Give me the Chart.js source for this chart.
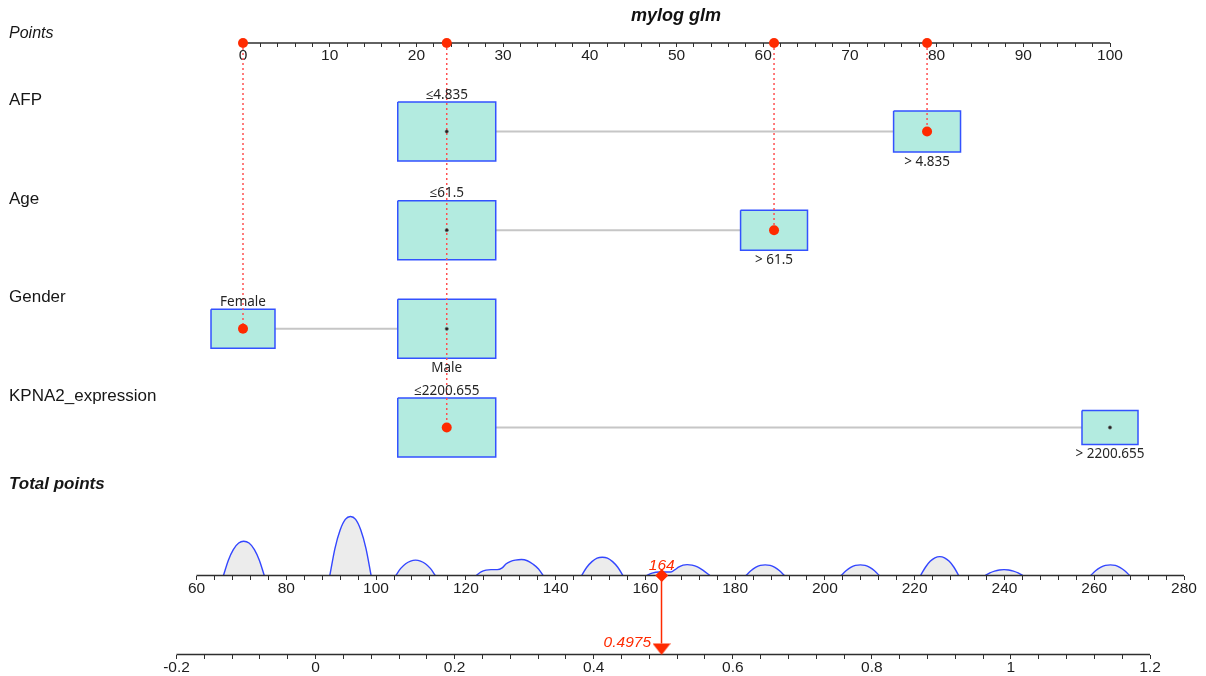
<!DOCTYPE html>
<html>
<head>
<meta charset="utf-8">
<title>mylog glm nomogram</title>
<script src="https://cdn.jsdelivr.net/npm/chart.js@4.4.1/dist/chart.umd.min.js"></script>
<style>
  html, body { margin: 0; padding: 0; background: #ffffff; }
  #wrap { width: 1206px; height: 676px; position: relative; }
</style>
</head>
<body>
<div id="wrap"><canvas id="nomogram"></canvas></div>
<script>
// ---------------- data ----------------
const TITLE = 'mylog glm';
const VARIABLES = ['AFP', 'Age', 'Gender', 'KPNA2_expression'];

const AFP_LEVELS = ['≤4.835', '> 4.835'];
const AFP_POINTS = [23.5, 78.9];
const AGE_LEVELS = ['≤61.5', '> 61.5'];
const AGE_POINTS = [23.5, 61.25];
const GENDER_LEVELS = ['Female', 'Male'];
const GENDER_POINTS = [0, 23.5];
const KPNA2_LEVELS = ['≤2200.655', '> 2200.655'];
const KPNA2_POINTS = [23.5, 100];

// level of each variable for the patient being scored
const SELECTED_LEVEL = [1, 1, 0, 0];
// predicted probability for that patient
const PROBABILITY = 0.4975;

// labelled ticks of the three scales
const POINTS_TICKS = [0, 10, 20, 30, 40, 50, 60, 70, 80, 90, 100];
const TOTAL_TICKS = [60, 80, 100, 120, 140, 160, 180, 200, 220, 240, 260, 280];
const PROB_TICKS = [-0.2, 0, 0.2, 0.4, 0.6, 0.8, 1, 1.2];

// distribution of total points in the sample (relative density), null = gap
const TOTAL_DENSITY = [
  [66.0, 0], [67.1, 0.26], [68.2, 0.44], [69.4, 0.55], [70.5, 0.58], [71.7, 0.55], [72.9, 0.44], [74.0, 0.26], [75.1, 0], null,
  [89.7, 0], [90.85, 0.46], [92.0, 0.77], [93.15, 0.95], [94.3, 1.0], [95.45, 0.95], [96.6, 0.77], [97.75, 0.46], [98.9, 0], null,
  [104.4, 0], [105.5, 0.12], [106.6, 0.2], [107.7, 0.245], [108.8, 0.26], [109.9, 0.245], [111.0, 0.2], [112.1, 0.12], [113.2, 0], null,
  [122.3, 0], [123.4, 0.06], [124.5, 0.09], [125.6, 0.10], [127.0, 0.10], [128.1, 0.13], [129.0, 0.20], [130.0, 0.24], [131.0, 0.26],
  [132.4, 0.27], [133.7, 0.25], [135.0, 0.19], [136.2, 0.11], [137.2, 0], null,
  [145.8, 0], [146.95, 0.14], [148.1, 0.235], [149.25, 0.295], [150.4, 0.31], [151.55, 0.295], [152.7, 0.235], [153.85, 0.14], [155.0, 0], null,
  [160.3, 0], [161.5, 0.04], [163.0, 0.06], [164.5, 0.06], [165.7, 0.06], [166.6, 0.10], [167.5, 0.145], [168.4, 0.175], [169.3, 0.185],
  [170.4, 0.175], [171.6, 0.145], [172.8, 0.09], [174.4, 0], null,
  [182.4, 0], [183.5, 0.08], [184.55, 0.137], [185.6, 0.172], [186.7, 0.18], [187.8, 0.172], [188.85, 0.137], [189.9, 0.08], [191.0, 0], null,
  [203.6, 0], [204.7, 0.08], [205.75, 0.137], [206.8, 0.172], [207.9, 0.18], [208.95, 0.172], [210.0, 0.137], [211.05, 0.08], [212.1, 0], null,
  [221.3, 0], [222.4, 0.14], [223.45, 0.24], [224.5, 0.30], [225.6, 0.32], [226.65, 0.30], [227.7, 0.24], [228.75, 0.14], [229.8, 0], null,
  [235.7, 0], [236.75, 0.045], [237.8, 0.075], [238.85, 0.094], [239.9, 0.10], [240.95, 0.094], [242.0, 0.075], [243.05, 0.045], [244.1, 0], null,
  [259.2, 0], [260.3, 0.08], [261.4, 0.137], [262.5, 0.172], [263.6, 0.18], [264.7, 0.172], [265.7, 0.137], [266.8, 0.08], [267.9, 0]
];

// ---------------- layout & style ----------------
const LEVELS = [AFP_LEVELS, AGE_LEVELS, GENDER_LEVELS, KPNA2_LEVELS];
const LEVEL_POINTS = [AFP_POINTS, AGE_POINTS, GENDER_POINTS, KPNA2_POINTS];

// box half sizes per level: [half width in points, half height in rows]
const BOX_HALF = [
  [[5.65, 0.299], [3.86, 0.208]],
  [[5.65, 0.299], [3.86, 0.203]],
  [[3.69, 0.198], [5.65, 0.299]],
  [[5.65, 0.299], [3.23, 0.172]]
];

const W = 1206, H = 676;
const AREA = { left: 176, right: 1190, top: 0, bottom: H };
const ROW_PX = { first: 131.5, last: 427.5 };      // pixel centres of rows 1 and 4
const ROW_PITCH = (ROW_PX.last - ROW_PX.first) / 3;
const rowAt = px => 1 + (px - ROW_PX.first) / ROW_PITCH;
const AXIS_ROW = { points: rowAt(43), total: rowAt(575.5), prob: rowAt(654.5) };
const DENSITY_PEAK_PX = 59;                           // height of density 1.0

const C = {
  axis: '#2e2e2e', tickText: '#1e1e1e', text: '#161616', levelText: '#262626',
  boxFill: '#b3ebe0', boxEdge: '#3352ff', connector: '#c6c6c6',
  red: '#ff2a00', redDots: '#ff5050', densLine: '#3346ff', densFill: '#ececec'
};
const SANS = '"Liberation Sans", Arial, sans-serif';

// maps value anchors v0->p0, v1->p1 onto the pixel span pMin..pMax
function spanFor(v0, p0, v1, p1, pMin, pMax) {
  const k = (p1 - p0) / (v1 - v0);
  const a = v0 + (pMin - p0) / k, b = v0 + (pMax - p0) / k;
  return { min: Math.min(a, b), max: Math.max(a, b) };
}
const SPAN_POINTS = spanFor(0, 243, 100, 1110, AREA.left, AREA.right);
const SPAN_TOTAL = spanFor(60, 196.5, 280, 1184, AREA.left, AREA.right);
const SPAN_PROB = spanFor(-0.2, 176.5, 1.2, 1150, AREA.left, AREA.right);
const SPAN_ROWS = spanFor(1, ROW_PX.first, 4, ROW_PX.last, AREA.top, AREA.bottom);
const SPAN_DENS = spanFor(0, 575.5, 1, 575.5 - DENSITY_PEAK_PX, AREA.top, AREA.bottom);

// minor tick positions
const POINTS_MINOR = Array.from({ length: 51 }, (_, i) => i * 2);
const TOTAL_MINOR = Array.from({ length: 56 }, (_, i) => 60 + i * 4);
const PROB_MINOR = Array.from({ length: 36 }, (_, i) => (i * 4 - 20) / 100);

const selectedPoints = LEVEL_POINTS.map((pts, i) => pts[SELECTED_LEVEL[i]]);
const TOTAL_POINTS = selectedPoints.reduce((a, b) => a + b, 0);

// ---------------- datasets ----------------
const datasets = [];
const lineDefaults = { showLine: true, pointRadius: 0, tension: 0, fill: false };

// density of total points
datasets.push(Object.assign({}, lineDefaults, {
  xAxisID: 'xt', yAxisID: 'yd', order: 60,
  data: TOTAL_DENSITY.map((p, i) => p ? { x: p[0], y: p[1] } : { x: TOTAL_DENSITY[i - 1][0] + 0.5, y: null }),
  borderColor: C.densLine, borderWidth: 1.4, backgroundColor: C.densFill,
  fill: 'origin', cubicInterpolationMode: 'monotone', spanGaps: false
}));

// axis lines
[['xp', POINTS_TICKS, AXIS_ROW.points], ['xt', TOTAL_TICKS, AXIS_ROW.total], ['xr', PROB_TICKS, AXIS_ROW.prob]]
  .forEach(([id, ticks, row]) => {
    datasets.push(Object.assign({}, lineDefaults, {
      xAxisID: id, yAxisID: 'y', order: 50,
      data: [{ x: ticks[0], y: row }, { x: ticks[ticks.length - 1], y: row }],
      borderColor: C.axis, borderWidth: 1.4
    }));
  });

VARIABLES.forEach((name, i) => {
  const row = i + 1;
  const pts = LEVEL_POINTS[i];
  // connector between levels
  datasets.push(Object.assign({}, lineDefaults, {
    xAxisID: 'xp', yAxisID: 'y', order: 40,
    data: [{ x: Math.min(...pts), y: row }, { x: Math.max(...pts), y: row }],
    borderColor: C.connector, borderWidth: 2
  }));
  // level boxes
  pts.forEach((p, j) => {
    const [hw, hh] = BOX_HALF[i][j];
    datasets.push(Object.assign({}, lineDefaults, {
      xAxisID: 'xp', yAxisID: 'y', order: 30,
      data: [
        { x: p - hw, y: row - hh }, { x: p + hw, y: row - hh },
        { x: p + hw, y: row + hh }, { x: p - hw, y: row + hh },
        { x: p - hw, y: row - hh }
      ],
      borderColor: C.boxEdge, borderWidth: 1.5, backgroundColor: C.boxFill, fill: 'shape'
    }));
  });
  // dotted guide from the points scale to the selected level
  const sp = pts[SELECTED_LEVEL[i]];
  datasets.push(Object.assign({}, lineDefaults, {
    xAxisID: 'xp', yAxisID: 'y', order: 20,
    data: [{ x: sp, y: AXIS_ROW.points }, { x: sp, y: row }],
    borderColor: C.redDots, borderWidth: 1.5, borderDash: [2, 3]
  }));
});

// small centre marks of unselected levels
datasets.push({
  xAxisID: 'xp', yAxisID: 'y', order: 12, showLine: false,
  data: VARIABLES.map((_, i) => ({ x: LEVEL_POINTS[i][1 - SELECTED_LEVEL[i]], y: i + 1 })),
  pointRadius: 1.7, backgroundColor: '#222', borderColor: '#777', borderWidth: 0.6
});
// selected levels and their points on the top scale
datasets.push({
  xAxisID: 'xp', yAxisID: 'y', order: 10, showLine: false,
  data: VARIABLES.map((_, i) => ({ x: selectedPoints[i], y: i + 1 }))
    .concat(selectedPoints.map(p => ({ x: p, y: AXIS_ROW.points }))),
  pointRadius: 5, backgroundColor: C.red, borderWidth: 0
});

// arrow from total points to probability
const TRI_H = 11 / ROW_PITCH;
datasets.push(Object.assign({}, lineDefaults, {
  xAxisID: 'xr', yAxisID: 'y', order: 5,
  data: [{ x: PROBABILITY, y: AXIS_ROW.total }, { x: PROBABILITY, y: AXIS_ROW.prob - TRI_H }],
  borderColor: C.red, borderWidth: 1.5
}));
const triangle = (() => {
  const c = document.createElement('canvas');
  c.width = 18; c.height = 12;
  const g = c.getContext('2d');
  g.fillStyle = C.red;
  g.beginPath(); g.moveTo(0, 0.5); g.lineTo(18, 0.5); g.lineTo(9, 12); g.closePath(); g.fill();
  return c;
})();
datasets.push({
  xAxisID: 'xr', yAxisID: 'y', order: 1, showLine: false,
  data: [{ x: PROBABILITY, y: AXIS_ROW.prob - TRI_H / 2 }],
  pointStyle: triangle, pointRadius: 9
});
datasets.push({
  xAxisID: 'xt', yAxisID: 'y', order: 1, showLine: false,
  data: [{ x: TOTAL_POINTS, y: AXIS_ROW.total }],
  pointStyle: 'rectRot', pointRadius: 6.5, backgroundColor: C.red, borderWidth: 0
});

// ---------------- scales ----------------
function tickAxis(span, row, minor, major, fmt) {
  return {
    type: 'linear', axis: 'x', position: { y: row }, min: span.min, max: span.max,
    afterBuildTicks: s => { s.ticks = minor.map(v => ({ value: v })); },
    grid: { drawOnChartArea: false, drawTicks: true, tickLength: 4, color: C.axis, lineWidth: 1 },
    border: { display: false },
    ticks: {
      autoSkip: false, maxRotation: 0, minRotation: 0, padding: -0.5,
      color: C.tickText, font: { family: SANS, size: 15.5 },
      callback: v => (major.some(m => Math.abs(m - v) < 1e-9) ? fmt(v) : '')
    }
  };
}
const fmtNum = v => String(Math.round(v * 100) / 100);

// ---------------- text ----------------
const textPlugin = {
  id: 'nomogramText',
  afterDraw(chart) {
    const { ctx } = chart;
    const xp = chart.scales.xp, yr = chart.scales.y, xt = chart.scales.xt, xr = chart.scales.xr;
    ctx.save();
    ctx.textBaseline = 'alphabetic';

    ctx.fillStyle = '#111';
    ctx.textAlign = 'center';
    ctx.font = `italic bold 18px ${SANS}`;
    ctx.fillText(TITLE, 676, 21);

    ctx.textAlign = 'left';
    ctx.fillStyle = C.text;
    ctx.font = `italic 16px ${SANS}`;
    ctx.fillText('Points', 9, 37.5);
    ctx.font = `17px ${SANS}`;
    VARIABLES.forEach((name, i) => ctx.fillText(name, 9, yr.getPixelForValue(i + 1) - 26.5));
    ctx.font = `italic bold 17px ${SANS}`;
    ctx.fillText('Total points', 9, 489);

    ctx.textAlign = 'center';
    ctx.fillStyle = C.levelText;
    ctx.font = '13.5px "Noto Sans", "Open Sans", sans-serif';
    VARIABLES.forEach((_, i) => {
      LEVELS[i].forEach((lab, j) => {
        const x = xp.getPixelForValue(LEVEL_POINTS[i][j]);
        const hh = BOX_HALF[i][j][1];
        const y = j === 0 ? yr.getPixelForValue(i + 1 - hh) - 3.4 : yr.getPixelForValue(i + 1 + hh) + 14;
        ctx.fillText(lab, x, y);
      });
    });

    ctx.fillStyle = C.red;
    ctx.font = `italic 15.5px ${SANS}`;
    ctx.fillText(String(Math.round(TOTAL_POINTS)), xt.getPixelForValue(TOTAL_POINTS), yr.getPixelForValue(AXIS_ROW.total) - 5.5);
    ctx.textAlign = 'right';
    ctx.fillText(String(PROBABILITY), xr.getPixelForValue(PROBABILITY) - 10.5, yr.getPixelForValue(AXIS_ROW.prob) - 7.5);
    ctx.restore();
  }
};

new Chart(document.getElementById('nomogram'), {
  type: 'scatter',
  data: { datasets },
  options: {
    responsive: true, maintainAspectRatio: false, animation: false, devicePixelRatio: 1,
    layout: {
      autoPadding: false,
      padding: { left: AREA.left, right: W - AREA.right, top: AREA.top, bottom: H - AREA.bottom }
    },
    plugins: { legend: { display: false }, tooltip: { enabled: false }, title: { display: false } },
    scales: {
      y: { type: 'linear', display: false, reverse: true, min: SPAN_ROWS.min, max: SPAN_ROWS.max },
      yd: { type: 'linear', display: false, min: SPAN_DENS.min, max: SPAN_DENS.max },
      xp: tickAxis(SPAN_POINTS, AXIS_ROW.points, POINTS_MINOR, POINTS_TICKS, v => String(Math.round(v))),
      xt: tickAxis(SPAN_TOTAL, AXIS_ROW.total, TOTAL_MINOR, TOTAL_TICKS, v => String(Math.round(v))),
      xr: tickAxis(SPAN_PROB, AXIS_ROW.prob, PROB_MINOR, PROB_TICKS, fmtNum)
    }
  },
  plugins: [textPlugin]
});
</script>
</body>
</html>
